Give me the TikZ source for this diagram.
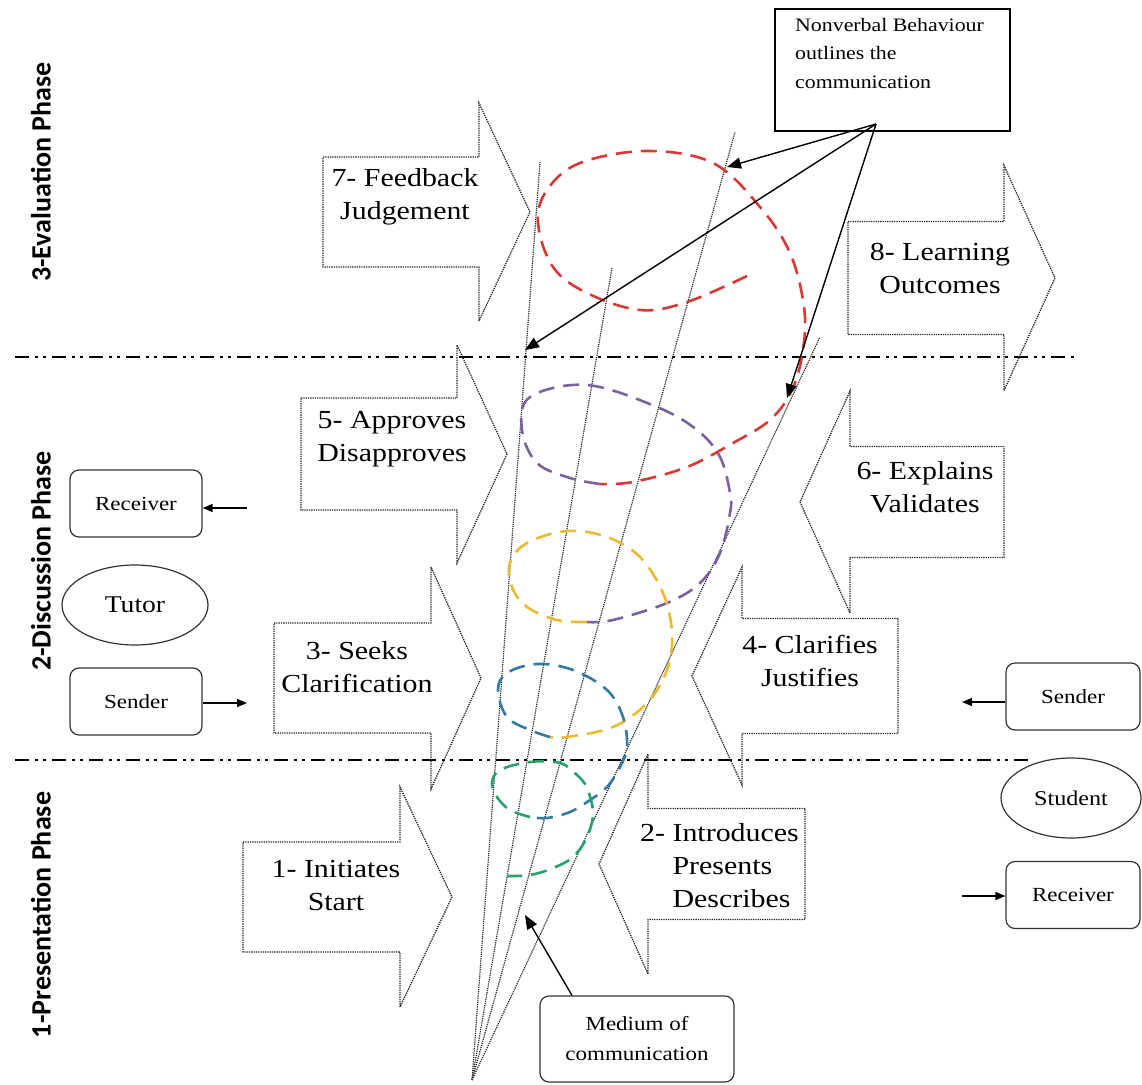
\documentclass[tikz,border=0pt]{standalone}
\usepackage{fontspec}
\setmainfont{Liberation Serif}[FakeStretch=1.15]
\newfontfamily\phasefont{Carlito}
\usetikzlibrary{arrows.meta,shapes.geometric}

\definecolor{loopred}{RGB}{218,56,50}
\definecolor{looppurple}{RGB}{125,96,160}
\definecolor{loopyellow}{RGB}{236,186,45}
\definecolor{loopblue}{RGB}{50,122,162}
\definecolor{loopgreen}{RGB}{40,160,105}

% block arrow: shaft start, head base, tip, centre y, shaft half height, head half height
\newcommand\blockarrow[6]{%
  \draw[blockline] ({#1},{#4-#5}) -- ({#2},{#4-#5}) -- ({#2},{#4-#6}) -- ({#3},{#4})
    -- ({#2},{#4+#6}) -- ({#2},{#4+#5}) -- ({#1},{#4+#5}) -- cycle;}

\begin{document}
\begin{tikzpicture}[x=1pt,y=-1pt,
  blockline/.style={draw=black!85, dash pattern=on 1.3pt off 1pt, line width=1.3pt},
  fanline/.style={draw=black!85, dash pattern=on 1.2pt off 1pt, line width=1.2pt},
  phaseline/.style={draw=black, line width=2pt,
    dash pattern=on 14pt off 6pt on 3pt off 5pt on 3pt off 6pt},
  loopline/.style={line width=2.6pt, dash pattern=on 16pt off 9pt, smooth, tension=0.6},
  lbl/.style={font=\fontsize{26}{33}\selectfont, align=center, inner sep=0pt},
  phase/.style={font=\phasefont\bfseries\fontsize{28}{30}\selectfont, rotate=90, inner sep=0pt},
  roundbox/.style={draw=black!80, line width=1.2pt, rounded corners=9pt,
    minimum width=132pt, minimum height=67pt, inner sep=0pt,
    font=\fontsize{20}{24}\selectfont},
  oval/.style={draw=black!80, line width=1.2pt, ellipse, inner sep=0pt},
  callout/.style={draw=black, line width=1.4pt, -{Triangle[length=14pt,width=11pt]}},
  link/.style={draw=black, line width=1.4pt, -{Triangle[length=10pt,width=8pt]}},
]
\useasboundingbox (0,0) rectangle (1142,1084);

% phase separators
\coordinate (s1a) at (15,357);  \coordinate (s1b) at (1077,357);
\coordinate (s2a) at (15,760);  \coordinate (s2b) at (1030,760);
\draw[phaseline] (s1a) -- (s1b);
\draw[phaseline] (s2a) -- (s2b);

% phase titles
\node[phase] (ph3) at (41,172) {3-Evaluation Phase};
\node[phase] (ph2) at (41,561) {2-Discussion Phase};
\node[phase] (ph1) at (41,915) {1-Presentation Phase};

% block arrows
\blockarrow{323}{479}{530}{212}{55}{109}
\blockarrow{848}{1004}{1055}{278}{56.5}{112.5}
\blockarrow{301}{457}{507}{454}{56}{109}
\blockarrow{274}{431}{481}{678}{55}{111}
\blockarrow{243}{400}{452}{897}{55}{110}
\blockarrow{805}{648}{599}{864}{55.5}{110}
\blockarrow{898}{742}{692}{676}{57.5}{109}
\blockarrow{1004}{850}{800}{502}{55.5}{111}

\node[lbl] (t7) at (405,197) {7- Feedback\\Judgement};
\node[lbl] (t8) at (940,268) {8- Learning\\Outcomes};
\node[lbl] (t5) at (392,439) {5- Approves\\Disapproves};
\node[lbl] (t6) at (925,487) {6- Explains\\Validates};
\node[lbl] (t3) at (357,667) {3- Seeks\\Clarification};
\node[lbl] (t4) at (810,661) {4- Clarifies\\Justifies};
\node[lbl] (t1) at (336,886) {1- Initiates\\Start};
\node[lbl, align=left, anchor=west] (t2) at (640,866)
  {2- Introduces\\\phantom{2- }Presents\\\phantom{2- }Describes};

% medium of communication: fan of lines from one point
\coordinate (apex) at (472,1080);
\coordinate (f1) at (540,162);
\coordinate (f2) at (612,268);
\coordinate (f3) at (735,132);
\coordinate (f4) at (820,337);
\foreach \f in {f1,f2,f3,f4} \draw[fanline] (apex) -- (\f);

% growing helix of nonverbal behaviour
\draw[loopline, loopred] plot coordinates {(747,276) (687,302) (640,310) (587,293)
  (553,267) (538,223) (547,190) (580,163) (647,151) (713,163) (760,207) (790,253)
  (804,307) (803,350) (792,390) (770,420) (733,443) (687,467) (633,482) (600,484)};
\draw[loopline, looppurple] plot coordinates {(600,484) (570,478) (537,463) (522,430)
  (530,397) (587,385) (657,407) (697,430) (720,457) (730,493) (730,513) (720,553)
  (700,583) (667,603) (613,620) (587,622)};
\draw[loopline, loopyellow] plot coordinates {(587,622) (557,620) (527,607) (512,587)
  (510,563) (527,543) (567,531) (607,537) (640,557) (663,593) (672,633) (667,670)
  (647,703) (613,727) (567,737) (550,737)};
\draw[loopline, loopblue] plot coordinates {(550,737) (530,730) (507,717) (498,690)
  (507,673) (537,664) (573,670) (607,690) (623,717) (627,747) (620,767) (607,787)
  (590,800) (570,812) (547,818) (530,817)};
\draw[loopline, loopgreen] plot coordinates {(530,817) (510,810) (497,797) (492,783)
  (500,770) (530,762) (560,763) (577,775) (587,788) (593,813) (587,837) (573,857)
  (553,868) (530,875) (507,876)};

% nonverbal behaviour callout
\node[draw=black, line width=1.2pt, minimum width=235pt, minimum height=122pt,
  inner sep=0pt] (nv) at (892.5,70) {};
\node[font=\fontsize{19}{28.5}\selectfont, align=left, anchor=north west,
  inner sep=0pt] (nvtext) at (795,18) {Nonverbal Behaviour\\outlines the\\communication};
\coordinate (nvfoot) at (876,124);
\coordinate (c1) at (727,167);
\coordinate (c2) at (525,350);
\coordinate (c3) at (787,398);
\draw[callout] (nvfoot) -- (c1);
\draw[callout] (nvfoot) -- (c2);
\draw[callout] (nvfoot) -- (c3);

% medium callout
\node[roundbox, minimum width=194pt, minimum height=86pt, align=center,
  font=\fontsize{20}{30}\selectfont] (medium) at (637,1039) {Medium of\\communication};
\coordinate (mtip) at (525,915);
\draw[callout] (medium.north west -| 572,0) -- (mtip);

% tutor side
\node[roundbox] (recvL) at (136,503.5) {Receiver};
\node[oval, minimum width=146pt, minimum height=80pt,
  font=\fontsize{24}{28}\selectfont] (tutor) at (135,605) {Tutor};
\node[roundbox] (sendL) at (136,701.5) {Sender};
\coordinate (inL) at (247,508);
\coordinate (outL) at (247,703);
\draw[link] (inL) -- (inL -| recvL.east);
\draw[link] (outL -| sendL.east) -- (outL);

% student side
\node[roundbox, minimum width=134pt] (sendR) at (1073,696.5) {Sender};
\node[oval, minimum width=140pt, minimum height=80pt,
  font=\fontsize{21}{24}\selectfont] (student) at (1071,798) {Student};
\node[roundbox, minimum width=134pt] (recvR) at (1073,895) {Receiver};
\coordinate (outR) at (962,702);
\coordinate (inR) at (962,896);
\draw[link] (outR -| sendR.west) -- (outR);
\draw[link] (inR) -- (inR -| recvR.west);

\end{tikzpicture}
\end{document}
